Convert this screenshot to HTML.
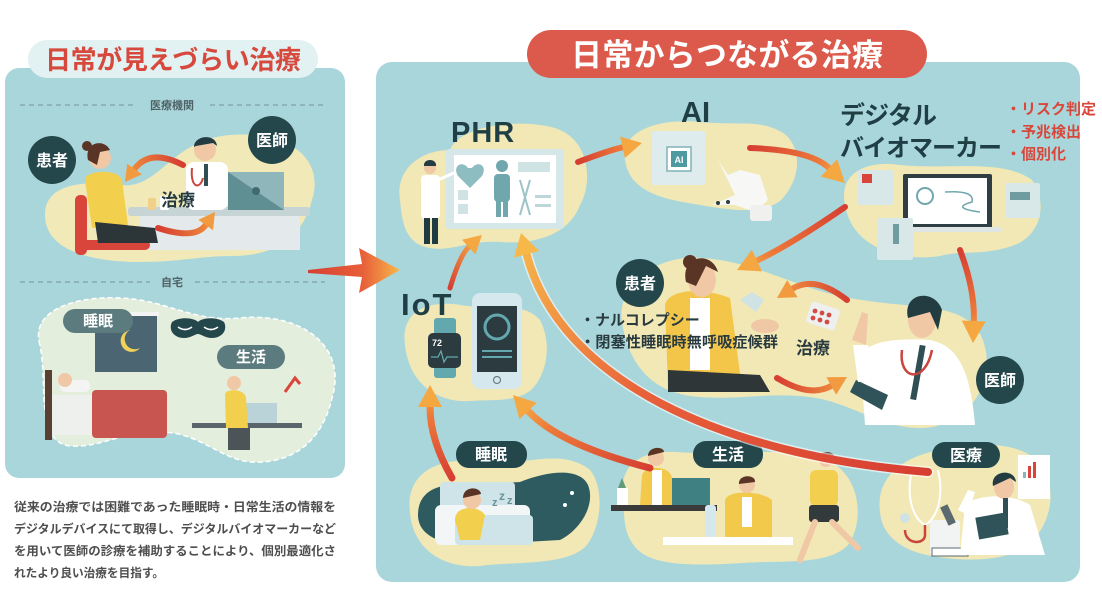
<!DOCTYPE html>
<html><head><meta charset="utf-8"><style>
html,body{margin:0;padding:0;background:#fff;}
svg{display:block;font-family:"Liberation Sans","Noto Sans CJK JP",sans-serif;}
.b{font-weight:700;}
</style></head><body>
<svg width="1102" height="615" viewBox="0 0 1102 615" xmlns="http://www.w3.org/2000/svg">
<defs>
<linearGradient id="g1" gradientUnits="userSpaceOnUse" x1="578" y1="162" x2="642" y2="143"><stop offset="0" stop-color="#d63e32"/><stop offset="0.7" stop-color="#ee7a3a"/><stop offset="1" stop-color="#f7b84a"/></linearGradient>
<linearGradient id="g2" gradientUnits="userSpaceOnUse" x1="750" y1="148" x2="845" y2="183"><stop offset="0" stop-color="#d63e32"/><stop offset="0.7" stop-color="#ee7a3a"/><stop offset="1" stop-color="#f7b84a"/></linearGradient>
<linearGradient id="g3" gradientUnits="userSpaceOnUse" x1="845" y1="207" x2="737" y2="270"><stop offset="0" stop-color="#d63e32"/><stop offset="0.7" stop-color="#ee7a3a"/><stop offset="1" stop-color="#f7b84a"/></linearGradient>
<linearGradient id="g4" gradientUnits="userSpaceOnUse" x1="960" y1="250" x2="973" y2="343"><stop offset="0" stop-color="#d63e32"/><stop offset="0.7" stop-color="#ee7a3a"/><stop offset="1" stop-color="#f7b84a"/></linearGradient>
<linearGradient id="g5" gradientUnits="userSpaceOnUse" x1="847" y1="300" x2="777" y2="298"><stop offset="0" stop-color="#d63e32"/><stop offset="1" stop-color="#f29a40"/></linearGradient>
<linearGradient id="g6" gradientUnits="userSpaceOnUse" x1="777" y1="378" x2="847" y2="377"><stop offset="0" stop-color="#d63e32"/><stop offset="1" stop-color="#f29a40"/></linearGradient>
<linearGradient id="g7" gradientUnits="userSpaceOnUse" x1="450" y1="288" x2="482" y2="235"><stop offset="0" stop-color="#d63e32"/><stop offset="1" stop-color="#f7b84a"/></linearGradient>
<linearGradient id="g8" gradientUnits="userSpaceOnUse" x1="928" y1="472" x2="521" y2="233"><stop offset="0" stop-color="#d63e32"/><stop offset="0.6" stop-color="#e8603a"/><stop offset="1" stop-color="#f7b84a"/></linearGradient>
<linearGradient id="g9" gradientUnits="userSpaceOnUse" x1="650" y1="468" x2="513" y2="395"><stop offset="0" stop-color="#d63e32"/><stop offset="0.7" stop-color="#ee7a3a"/><stop offset="1" stop-color="#f7b84a"/></linearGradient>
<linearGradient id="g10" gradientUnits="userSpaceOnUse" x1="452" y1="478" x2="430" y2="385"><stop offset="0" stop-color="#d63e32"/><stop offset="0.7" stop-color="#ee7a3a"/><stop offset="1" stop-color="#f7b84a"/></linearGradient>
<linearGradient id="g11" gradientUnits="userSpaceOnUse" x1="183" y1="165" x2="125" y2="182"><stop offset="0" stop-color="#d63e32"/><stop offset="1" stop-color="#f29a40"/></linearGradient>
<linearGradient id="g12" gradientUnits="userSpaceOnUse" x1="158" y1="228" x2="215" y2="212"><stop offset="0" stop-color="#d63e32"/><stop offset="1" stop-color="#f29a40"/></linearGradient>
<linearGradient id="gb" gradientUnits="userSpaceOnUse" x1="308" y1="270" x2="400" y2="270"><stop offset="0" stop-color="#d63e32"/><stop offset="0.6" stop-color="#e8603a"/><stop offset="1" stop-color="#f7b84a"/></linearGradient>
</defs>

<!-- ================= LEFT PANEL ================= -->
<rect x="5" y="68" width="340" height="410" rx="14" fill="#a9d6db"/>
<rect x="28" y="40" width="290" height="38" rx="19" fill="#e2f1f1"/>
<text x="173" y="69" text-anchor="middle" class="b" font-size="26" fill="#d7493d" textLength="256">日常が見えづらい治療</text>

<line x1="20" y1="105" x2="135" y2="105" stroke="#7f9ea2" stroke-width="1.2" stroke-dasharray="5 4"/>
<line x1="210" y1="105" x2="325" y2="105" stroke="#7f9ea2" stroke-width="1.2" stroke-dasharray="5 4"/>
<text x="172" y="109" text-anchor="middle" font-size="11" class="b" fill="#4f6266">医療機関</text>

<!-- clinic blob -->
<path d="M45,215 C45,185 80,180 120,185 C160,190 170,140 230,135 C290,130 325,160 312,200 C302,240 272,256 232,256 C200,256 180,262 140,262 C90,262 45,250 45,215 Z" fill="#f1e9b8"/>
<rect x="128" y="207" width="182" height="9" rx="3" fill="#c6d4d6"/>
<rect x="140" y="216" width="160" height="34" fill="#e4eaeb"/>
<rect x="228" y="172" width="56" height="38" fill="#8fb6bb"/>
<polygon points="228,172 284,210 228,210" fill="#5f8e93"/>
<circle cx="256" cy="191" r="4" fill="#3f6a6f"/>
<rect x="186" y="162" width="42" height="48" rx="8" fill="#ffffff"/>
<rect x="204" y="164" width="4" height="22" fill="#2f4f55"/>
<path d="M192,168 C190,188 200,190 203,178" stroke="#c9453d" stroke-width="2" fill="none"/>
<circle cx="205" cy="150" r="11" fill="#f1c8a6"/>
<path d="M194,147 C194,135 216,133 217,146 L213,143 L196,146 Z" fill="#223c42"/>
<rect x="75" y="195" width="12" height="60" rx="5" fill="#d9453a"/>
<rect x="80" y="240" width="70" height="10" rx="5" fill="#d9453a"/>
<path d="M85,180 C85,170 118,168 122,180 L128,225 L92,228 Z" fill="#f2d04e"/>
<path d="M95,222 L155,228 L158,243 L98,243 Z" fill="#2c3639"/>
<circle cx="100" cy="158" r="11" fill="#f1c8a6"/>
<path d="M88,160 C84,142 104,138 110,150 L100,152 L97,165 Z" fill="#5a3424"/>
<circle cx="87" cy="146" r="5" fill="#5a3424"/>
<rect x="148" y="198" width="8" height="12" rx="2" fill="#f1d08a"/>
<rect x="160" y="196" width="9" height="14" rx="2" fill="#ffffff"/>
<path d="M183,165 Q150,148 134.5,169" stroke="url(#g11)" stroke-width="6" fill="none" stroke-linecap="round"/>
<polygon points="125,182 141.8,174.4 127.2,163.8" fill="#f29a40"/>
<path d="M158,228 Q195,240 205.7,225" stroke="url(#g12)" stroke-width="6" fill="none" stroke-linecap="round"/>
<polygon points="215,212 213,230.2 198.4,219.8" fill="#f29a40"/>
<text x="178" y="206" text-anchor="middle" class="b" font-size="17" fill="#233a40">治療</text>
<circle cx="52" cy="160" r="24" fill="#24474c"/>
<text x="52" y="166" text-anchor="middle" class="b" font-size="16" fill="#fff">患者</text>
<circle cx="272" cy="140" r="24" fill="#24474c"/>
<text x="272" y="146" text-anchor="middle" class="b" font-size="16" fill="#fff">医師</text>

<line x1="20" y1="282" x2="150" y2="282" stroke="#7f9ea2" stroke-width="1.2" stroke-dasharray="5 4"/>
<line x1="195" y1="282" x2="325" y2="282" stroke="#7f9ea2" stroke-width="1.2" stroke-dasharray="5 4"/>
<text x="172" y="286" text-anchor="middle" font-size="11" class="b" fill="#4f6266">自宅</text>

<path d="M40,345 C28,305 90,292 140,300 C175,306 200,322 240,318 C300,312 348,345 332,398 C322,442 292,464 252,462 C220,460 200,432 160,432 C120,432 100,448 70,446 C35,442 48,385 40,345 Z" fill="#e3eedd" stroke="#ffffff" stroke-width="1.5" stroke-dasharray="5 3"/>
<rect x="95" y="316" width="62" height="56" fill="#4b6573"/>
<rect x="95" y="312" width="64" height="4" fill="#f4f4f4"/>
<path d="M130,330 A11,11 0 1 0 140,348 A9,9 0 1 1 130,330 Z" fill="#f2d15a"/>
<rect x="45" y="370" width="7" height="70" fill="#5a3f33"/>
<rect x="52" y="395" width="45" height="40" fill="#eef0ee"/>
<rect x="92" y="390" width="75" height="48" rx="4" fill="#c95550"/>
<rect x="60" y="380" width="30" height="12" rx="5" fill="#f4f4f4"/>
<circle cx="65" cy="380" r="7" fill="#f1c8a6"/>
<rect x="192" y="423" width="110" height="5" fill="#59656a"/>
<rect x="245" y="403" width="32" height="20" fill="#b9d3d8"/>
<path d="M225,395 C225,388 245,388 246,398 L248,428 L226,428 Z" fill="#f2d04e"/>
<circle cx="234" cy="383" r="7" fill="#f1c8a6"/>
<rect x="228" y="428" width="22" height="22" fill="#4b5558"/>
<path d="M285,392 L295,378 L300,384" stroke="#d9453a" stroke-width="3" fill="none"/>
<rect x="63" y="309" width="70" height="24" rx="12" fill="#5c7b7e"/>
<text x="98" y="326" text-anchor="middle" class="b" font-size="15" fill="#fff">睡眠</text>
<rect x="217" y="345" width="68" height="24" rx="12" fill="#5c7b7e"/>
<text x="251" y="362" text-anchor="middle" class="b" font-size="15" fill="#fff">生活</text>
<path d="M172,322 C180,316 195,318 198,322 C201,318 216,316 224,322 C228,330 222,338 212,338 C205,338 201,334 198,334 C195,334 191,338 184,338 C174,338 168,330 172,322 Z" fill="#24474c"/>
<path d="M178,327 Q185,332 192,327 M204,327 Q211,332 218,327" stroke="#fff" stroke-width="1.6" fill="none"/>

<g font-size="12" class="b" fill="#4e4e4e">
<text x="14" y="511" textLength="322" lengthAdjust="spacingAndGlyphs">従来の治療では困難であった睡眠時・日常生活の情報を</text>
<text x="14" y="533" textLength="322" lengthAdjust="spacingAndGlyphs">デジタルデバイスにて取得し、デジタルバイオマーカーなど</text>
<text x="14" y="555" textLength="322" lengthAdjust="spacingAndGlyphs">を用いて医師の診療を補助することにより、個別最適化さ</text>
<text x="14" y="577" textLength="150" lengthAdjust="spacingAndGlyphs">れたより良い治療を目指す。</text>
</g>

<!-- ================= RIGHT PANEL ================= -->
<rect x="376" y="62" width="704" height="520" rx="16" fill="#a9d6db"/>
<rect x="527" y="30" width="400" height="48" rx="24" fill="#dc5a4b"/>
<text x="727" y="66" text-anchor="middle" class="b" font-size="31" fill="#fff" textLength="312">日常からつながる治療</text>

<!-- big arrow between panels (on top) -->
<polygon points="308,270 362,264 359,248 400,270 359,293 362,277 308,273" fill="url(#gb)"/>

<g fill="#f1e8b5">
<path d="M400,200 C395,170 420,150 450,150 C460,125 520,118 555,128 C592,140 592,185 580,205 C570,232 540,245 500,242 C470,240 450,252 430,248 C405,244 402,222 400,200 Z"/>
<path d="M625,160 C620,130 660,118 700,122 C740,126 762,118 786,135 C806,155 796,186 780,201 C760,215 730,210 700,205 C670,200 630,195 625,160 Z"/>
<path d="M845,205 C838,172 868,160 900,165 C950,170 1002,158 1032,180 C1048,202 1042,236 1012,246 C982,256 962,250 940,256 C900,262 852,248 845,205 Z"/>
<path d="M405,345 C400,310 430,300 460,305 C490,310 522,300 540,320 C553,345 546,376 531,390 C515,403 490,399 470,401 C445,403 410,390 405,345 Z"/>
<path d="M622,322 C616,282 660,254 702,258 C762,262 800,292 862,300 C922,310 978,300 986,352 C992,392 962,428 920,428 C880,428 850,402 810,397 C770,392 740,400 700,397 C650,394 628,362 622,322 Z"/>
<path d="M410,512 C405,472 440,456 480,462 C520,468 560,446 590,470 C606,490 600,530 586,546 C566,566 520,561 480,566 C440,569 412,546 410,512 Z"/>
<path d="M623,500 C618,465 640,450 676,452 C726,456 776,446 822,458 C860,470 866,520 848,545 C828,566 782,560 742,563 C692,566 652,566 636,548 C622,532 625,515 623,500 Z"/>
<path d="M880,512 C875,476 905,456 940,450 C980,443 1020,440 1042,465 C1060,495 1047,530 1027,546 C1002,563 962,561 932,556 C902,551 882,536 880,512 Z"/>
</g>

<!-- PHR contents -->
<rect x="446" y="149" width="118" height="80" rx="3" fill="#d6e7e9"/>
<rect x="454" y="155" width="102" height="68" fill="#ffffff"/>
<path d="M468,168 C462,160 452,166 458,176 L470,188 L482,176 C488,166 478,160 472,168 Z" fill="#8dbcc1"/>
<circle cx="502" cy="166" r="6" fill="#6fa7ad"/>
<rect x="494" y="174" width="16" height="28" rx="4" fill="#6fa7ad"/>
<rect x="496" y="200" width="5" height="17" fill="#6fa7ad"/>
<rect x="503" y="200" width="5" height="17" fill="#6fa7ad"/>
<rect x="518" y="162" width="32" height="10" fill="#cfe2e4"/>
<rect x="458" y="190" width="10" height="10" fill="#cfe2e4"/>
<rect x="458" y="204" width="10" height="10" fill="#cfe2e4"/>
<path d="M520,180 L530,215 M530,180 L520,215" stroke="#9cc3c7" stroke-width="2"/>
<rect x="535" y="195" width="16" height="3" fill="#bcd6d9"/>
<rect x="535" y="204" width="16" height="3" fill="#bcd6d9"/>
<circle cx="430" cy="168" r="6" fill="#f1c8a6"/>
<path d="M424,166 C423,158 437,158 436,166 Z" fill="#223c42"/>
<rect x="421" y="175" width="19" height="44" rx="4" fill="#ffffff"/>
<rect x="424" y="218" width="6" height="26" fill="#1f3a40"/>
<rect x="432" y="218" width="6" height="26" fill="#1f3a40"/>
<line x1="438" y1="180" x2="456" y2="172" stroke="#ffffff" stroke-width="3"/>
<text x="451" y="142" class="b" font-size="29" fill="#1f3f45" letter-spacing="1">PHR</text>

<!-- AI -->
<rect x="652" y="131" width="53" height="54" rx="2" fill="#dfeced"/>
<rect x="667" y="147" width="24" height="24" fill="#ffffff" stroke="#7eb2b7" stroke-width="1.5"/>
<rect x="671" y="151" width="16" height="16" fill="#4f9aa0"/>
<text x="679" y="163" text-anchor="middle" class="b" font-size="9" fill="#fff">AI</text>
<path d="M718,160 L728,175 L740,170 L760,175 L768,200 L755,212 L735,205 L712,205 L735,195 Z" fill="#f7f7f5"/>
<rect x="750" y="205" width="22" height="16" rx="3" fill="#f0f0ee"/>
<circle cx="718" cy="203" r="2" fill="#2a3c40"/><circle cx="728" cy="202" r="2" fill="#2a3c40"/>
<text x="681" y="122" class="b" font-size="29" fill="#1f3f45">AI</text>

<!-- Digital biomarker -->
<text x="840" y="124" class="b" font-size="25" fill="#1f3f45" textLength="97">デジタル</text>
<text x="840" y="156" class="b" font-size="24" fill="#1f3f45" textLength="162">バイオマーカー</text>
<g class="b" font-size="15" fill="#d9473b">
<text x="1006" y="114">・リスク判定</text>
<text x="1006" y="137">・予兆検出</text>
<text x="1006" y="159">・個別化</text>
</g>
<rect x="903" y="174" width="89" height="54" rx="2" fill="#2f3e42"/>
<rect x="908" y="178" width="79" height="46" fill="#ffffff"/>
<circle cx="925" cy="196" r="8" fill="none" stroke="#6fa7ad" stroke-width="2"/>
<path d="M945,192 Q975,190 972,202 Q950,208 980,212" stroke="#6fa7ad" stroke-width="1.5" fill="none"/>
<rect x="895" y="227" width="106" height="5" rx="2" fill="#dfe4e4"/>
<rect x="858" y="170" width="35" height="35" rx="2" fill="#d8e7e8"/>
<rect x="862" y="174" width="10" height="9" fill="#d9453a"/>
<rect x="1005" y="183" width="35" height="35" rx="2" fill="#d8e7e8"/>
<rect x="1010" y="192" width="20" height="8" fill="#6f9ca1"/>
<rect x="877" y="218" width="36" height="42" rx="2" fill="#d8e7e8"/>
<rect x="893" y="224" width="6" height="20" fill="#6f9ca1"/>

<!-- IoT -->
<text x="401" y="315" class="b" font-size="31" fill="#1f3f45" letter-spacing="2">IoT</text>
<rect x="434" y="318" width="22" height="60" rx="3" fill="#62a8ae"/>
<rect x="428" y="333" width="33" height="35" rx="5" fill="#2b3b3f"/>
<text x="432" y="346" class="b" font-size="9" fill="#fff">72</text>
<path d="M431,357 L438,357 L441,351 L444,362 L447,357 L458,357" stroke="#62a8ae" stroke-width="1.3" fill="none"/>
<rect x="472" y="293" width="50" height="96" rx="8" fill="#d5e8ed"/>
<rect x="477" y="306" width="40" height="66" fill="#2b3b3f"/>
<circle cx="497" cy="327" r="12" fill="none" stroke="#62a8ae" stroke-width="3"/>
<rect x="482" y="350" width="30" height="2" fill="#62a8ae"/>
<rect x="482" y="356" width="30" height="2" fill="#62a8ae"/>
<circle cx="497" cy="380" r="3.5" fill="none" stroke="#6c7f83" stroke-width="1.2"/>

<!-- Patient / doctor scene -->
<path d="M665,305 C668,290 700,286 730,298 L742,388 L668,388 Z" fill="#f3c64a"/>
<rect x="690" y="298" width="20" height="72" fill="#ffffff"/>
<path d="M668,370 L760,375 L770,392 L668,392 Z" fill="#2f3638"/>
<ellipse cx="702" cy="280" rx="14" ry="17" fill="#f1c8a6"/>
<path d="M686,282 C680,255 712,250 718,272 L706,266 L696,286 Z" fill="#5a3424"/>
<circle cx="690" cy="262" r="7" fill="#5a3424"/>
<path d="M740,300 L752,292 L764,300 L756,312 Z" fill="#cfe2e4"/>
<ellipse cx="765" cy="326" rx="14" ry="7" fill="#f1c8a6"/>
<rect x="808" y="305" width="30" height="22" rx="3" fill="#eef0f0" transform="rotate(18 823 316)"/>
<g fill="#d34b47"><circle cx="815" cy="311" r="2.4"/><circle cx="822" cy="313" r="2.4"/><circle cx="829" cy="315" r="2.4"/><circle cx="813" cy="318" r="2.4"/><circle cx="820" cy="320" r="2.4"/><circle cx="827" cy="322" r="2.4"/></g>
<path d="M860,355 C870,340 900,338 930,340 C955,345 970,365 975,425 L865,425 Z" fill="#ffffff"/>
<rect x="915" y="345" width="6" height="55" fill="#2f4f55" transform="rotate(10 918 372)"/>
<ellipse cx="922" cy="320" rx="14" ry="18" fill="#f1c8a6"/>
<path d="M908,318 C902,292 935,288 942,310 L938,330 L930,312 Z" fill="#223c42"/>
<path d="M902,350 C898,380 925,385 932,350" stroke="#c9453d" stroke-width="2.5" fill="none"/>
<path d="M856,380 L888,395 L882,410 L850,392 Z" fill="#2f5358"/>
<path d="M852,340 L862,312 L868,314 L866,345 Z" fill="#f1c8a6"/>
<path d="M853,345 L868,345 L875,380 L858,382 Z" fill="#ffffff"/>

<g class="b" font-size="15" fill="#2a3b40">
<text x="580" y="325">・ナルコレプシー</text>
<text x="580" y="347" textLength="198" lengthAdjust="spacingAndGlyphs">・閉塞性睡眠時無呼吸症候群</text>
</g>
<text x="813" y="354" text-anchor="middle" class="b" font-size="17" fill="#2a3b40">治療</text>
<circle cx="640" cy="283" r="24" fill="#24474c"/>
<text x="640" y="289" text-anchor="middle" class="b" font-size="16" fill="#fff">患者</text>
<circle cx="1000" cy="380" r="24" fill="#24474c"/>
<text x="1000" y="386" text-anchor="middle" class="b" font-size="16" fill="#fff">医師</text>

<!-- Sleep scene -->
<path d="M418,515 C418,490 440,482 470,485 L520,482 C550,470 580,468 588,485 C596,505 580,530 560,540 L470,545 C440,545 418,535 418,515 Z" fill="#2d5b60"/>
<rect x="440" y="482" width="75" height="30" rx="4" fill="#cfe4e8"/>
<rect x="435" y="505" width="95" height="40" rx="6" fill="#f2f6f7"/>
<rect x="455" y="515" width="78" height="30" rx="4" fill="#cfe4e8"/>
<path d="M455,520 C455,505 478,505 485,515 L480,540 L460,540 Z" fill="#f2d04e"/>
<circle cx="472" cy="500" r="9" fill="#f1c8a6"/>
<path d="M463,498 C463,486 480,486 481,494 Z" fill="#5a3424"/>
<text x="492" y="506" class="b" font-size="11" fill="#6a9398">z</text><text x="499" y="500" class="b" font-size="12" fill="#6a9398">z</text><text x="507" y="504" class="b" font-size="11" fill="#6a9398">z</text>
<path d="M555,495 A14,14 0 1 0 570,520 A11,11 0 1 1 555,495 Z" fill="#ffffff"/>
<circle cx="572" cy="493" r="2" fill="#fff"/><circle cx="565" cy="505" r="2" fill="#fff"/>
<rect x="456" y="441" width="71" height="27" rx="13" fill="#24474c"/>
<text x="491" y="460" text-anchor="middle" class="b" font-size="16" fill="#fff">睡眠</text>

<!-- Life scene -->
<rect x="611" y="505" width="106" height="6" fill="#3a3a3a"/>
<rect x="617" y="488" width="11" height="17" fill="#ffffff"/>
<path d="M618,488 L622,478 L626,488" fill="#5f9a7a"/>
<path d="M642,475 C645,465 670,465 672,478 L672,505 L640,505 Z" fill="#f2c94a"/>
<rect x="652" y="470" width="10" height="35" fill="#ffffff"/>
<circle cx="656" cy="458" r="8" fill="#f1c8a6"/>
<path d="M648,456 C648,446 664,446 664,452 Z" fill="#5a3424"/>
<rect x="672" y="478" width="38" height="27" fill="#3f8082"/>
<rect x="705" y="505" width="11" height="32" rx="3" fill="#d5e8ed"/>
<rect x="663" y="537" width="130" height="8" fill="#ffffff"/>
<path d="M725,500 C728,490 760,490 772,500 L772,537 L725,537 Z" fill="#f2c94a"/>
<rect x="742" y="497" width="10" height="30" fill="#ffffff"/>
<circle cx="747" cy="485" r="8" fill="#f1c8a6"/>
<path d="M739,484 C738,474 756,474 755,482 Z" fill="#5a3424"/>
<rect x="810" y="470" width="28" height="36" rx="6" fill="#f2cf4e"/>
<rect x="809" y="505" width="30" height="17" rx="3" fill="#333a3c"/>
<circle cx="826" cy="460" r="7" fill="#f1c8a6"/>
<path d="M819,458 C819,450 834,450 835,458 Z" fill="#5a3424"/>
<path d="M815,522 L800,560 M832,522 L858,548" stroke="#f1c8a6" stroke-width="6" stroke-linecap="round"/>
<rect x="693" y="441" width="70" height="27" rx="13" fill="#24474c"/>
<text x="728" y="460" text-anchor="middle" class="b" font-size="16" fill="#fff">生活</text>

<!-- Medical scene -->
<path d="M912,470 C905,500 915,520 925,525 C935,520 945,500 938,470" stroke="#ffffff" stroke-width="2" fill="none"/>
<path d="M925,525 L925,535 C925,545 905,545 905,530" stroke="#c9453d" stroke-width="2.5" fill="none"/>
<circle cx="905" cy="518" r="5" fill="#cfe2e4"/>
<rect x="930" y="520" width="30" height="35" rx="3" fill="#f2f4f4"/>
<rect x="932" y="548" width="36" height="8" fill="#ffffff" stroke="#5a6a6e" stroke-width="1"/>
<rect x="944" y="505" width="8" height="20" fill="#5a6a6e" transform="rotate(-25 948 515)"/>
<rect x="1018" y="455" width="32" height="44" fill="#ffffff"/>
<rect x="1028" y="466" width="3" height="12" fill="#d9453a"/><rect x="1033" y="462" width="3" height="16" fill="#d9453a"/><rect x="1023" y="472" width="3" height="6" fill="#8ab6bb"/>
<path d="M965,505 C975,495 1010,492 1030,505 L1045,555 L960,555 Z" fill="#ffffff"/>
<ellipse cx="1004" cy="487" rx="10" ry="12" fill="#f1c8a6"/>
<path d="M993,486 C990,470 1015,468 1016,482 L1010,478 Z" fill="#223c42"/>
<rect x="1003" y="498" width="5" height="30" fill="#2f4f55"/>
<rect x="977" y="515" width="30" height="22" fill="#2f5358" transform="rotate(-10 992 526)"/>
<path d="M958,510 L968,490 L975,492 L968,515 Z" fill="#ffffff"/>
<rect x="932" y="442" width="68" height="26" rx="13" fill="#24474c"/>
<text x="966" y="461" text-anchor="middle" class="b" font-size="16" fill="#fff">医療</text>

<!-- ================= ARROWS (right) ================= -->
<path d="M578,162 Q610,150 622.5,147.3" stroke="url(#g1)" stroke-width="6" fill="none" stroke-linecap="round"/>
<polygon points="642,143 624.9,158 620.1,136.6" fill="#f5a842"/>

<path d="M750,148 Q810,150 829,167.9" stroke="url(#g2)" stroke-width="6" fill="none" stroke-linecap="round"/>
<polygon points="845,183 820.8,176.6 837.2,159.2" fill="#f5a842"/>

<path d="M845,207 Q790,245 756.9,260.6" stroke="url(#g3)" stroke-width="6" fill="none" stroke-linecap="round"/>
<polygon points="737,270 751.8,249.8 762,271.4" fill="#f5a842"/>

<path d="M960,250 Q975,290 973.8,321" stroke="url(#g4)" stroke-width="6" fill="none" stroke-linecap="round"/>
<polygon points="973,343 985.8,321.5 961.8,320.5" fill="#f5a842"/>

<path d="M847,300 Q815,275 792.4,288.7" stroke="url(#g5)" stroke-width="6" fill="none" stroke-linecap="round"/>
<polygon points="777,298 797.6,297.3 787.2,280.1" fill="#f29a40"/>

<path d="M777,378 Q810,398 831.3,385.9" stroke="url(#g6)" stroke-width="6" fill="none" stroke-linecap="round"/>
<polygon points="847,377 836.2,394.6 826.4,377.2" fill="#f29a40"/>

<path d="M450,288 Q460,255 468.7,247.1" stroke="url(#g7)" stroke-width="5" fill="none" stroke-linecap="round"/>
<polygon points="482,235 475.4,254.5 462,239.7" fill="#f5a842"/>

<path d="M928,472 C720,455 560,380 526.6,254.3" stroke="#ffffff" stroke-width="11" fill="none" stroke-linecap="round" opacity="0.6"/>
<path d="M928,472 C720,455 560,380 526.6,254.3" stroke="url(#g8)" stroke-width="8" fill="none" stroke-linecap="round"/>
<polygon points="521,233 539.2,251 514,257.6" fill="#f7b84a"/>

<path d="M650,468 Q560,445 528.1,411" stroke="url(#g9)" stroke-width="7" fill="none" stroke-linecap="round"/>
<polygon points="513,395 536.8,402.8 519.4,419.2" fill="#f5a842"/>

<path d="M452,478 Q430,440 430,407" stroke="url(#g10)" stroke-width="7" fill="none" stroke-linecap="round"/>
<polygon points="430,385 442,407 418,407" fill="#f5a842"/>
</svg>
</body></html>
